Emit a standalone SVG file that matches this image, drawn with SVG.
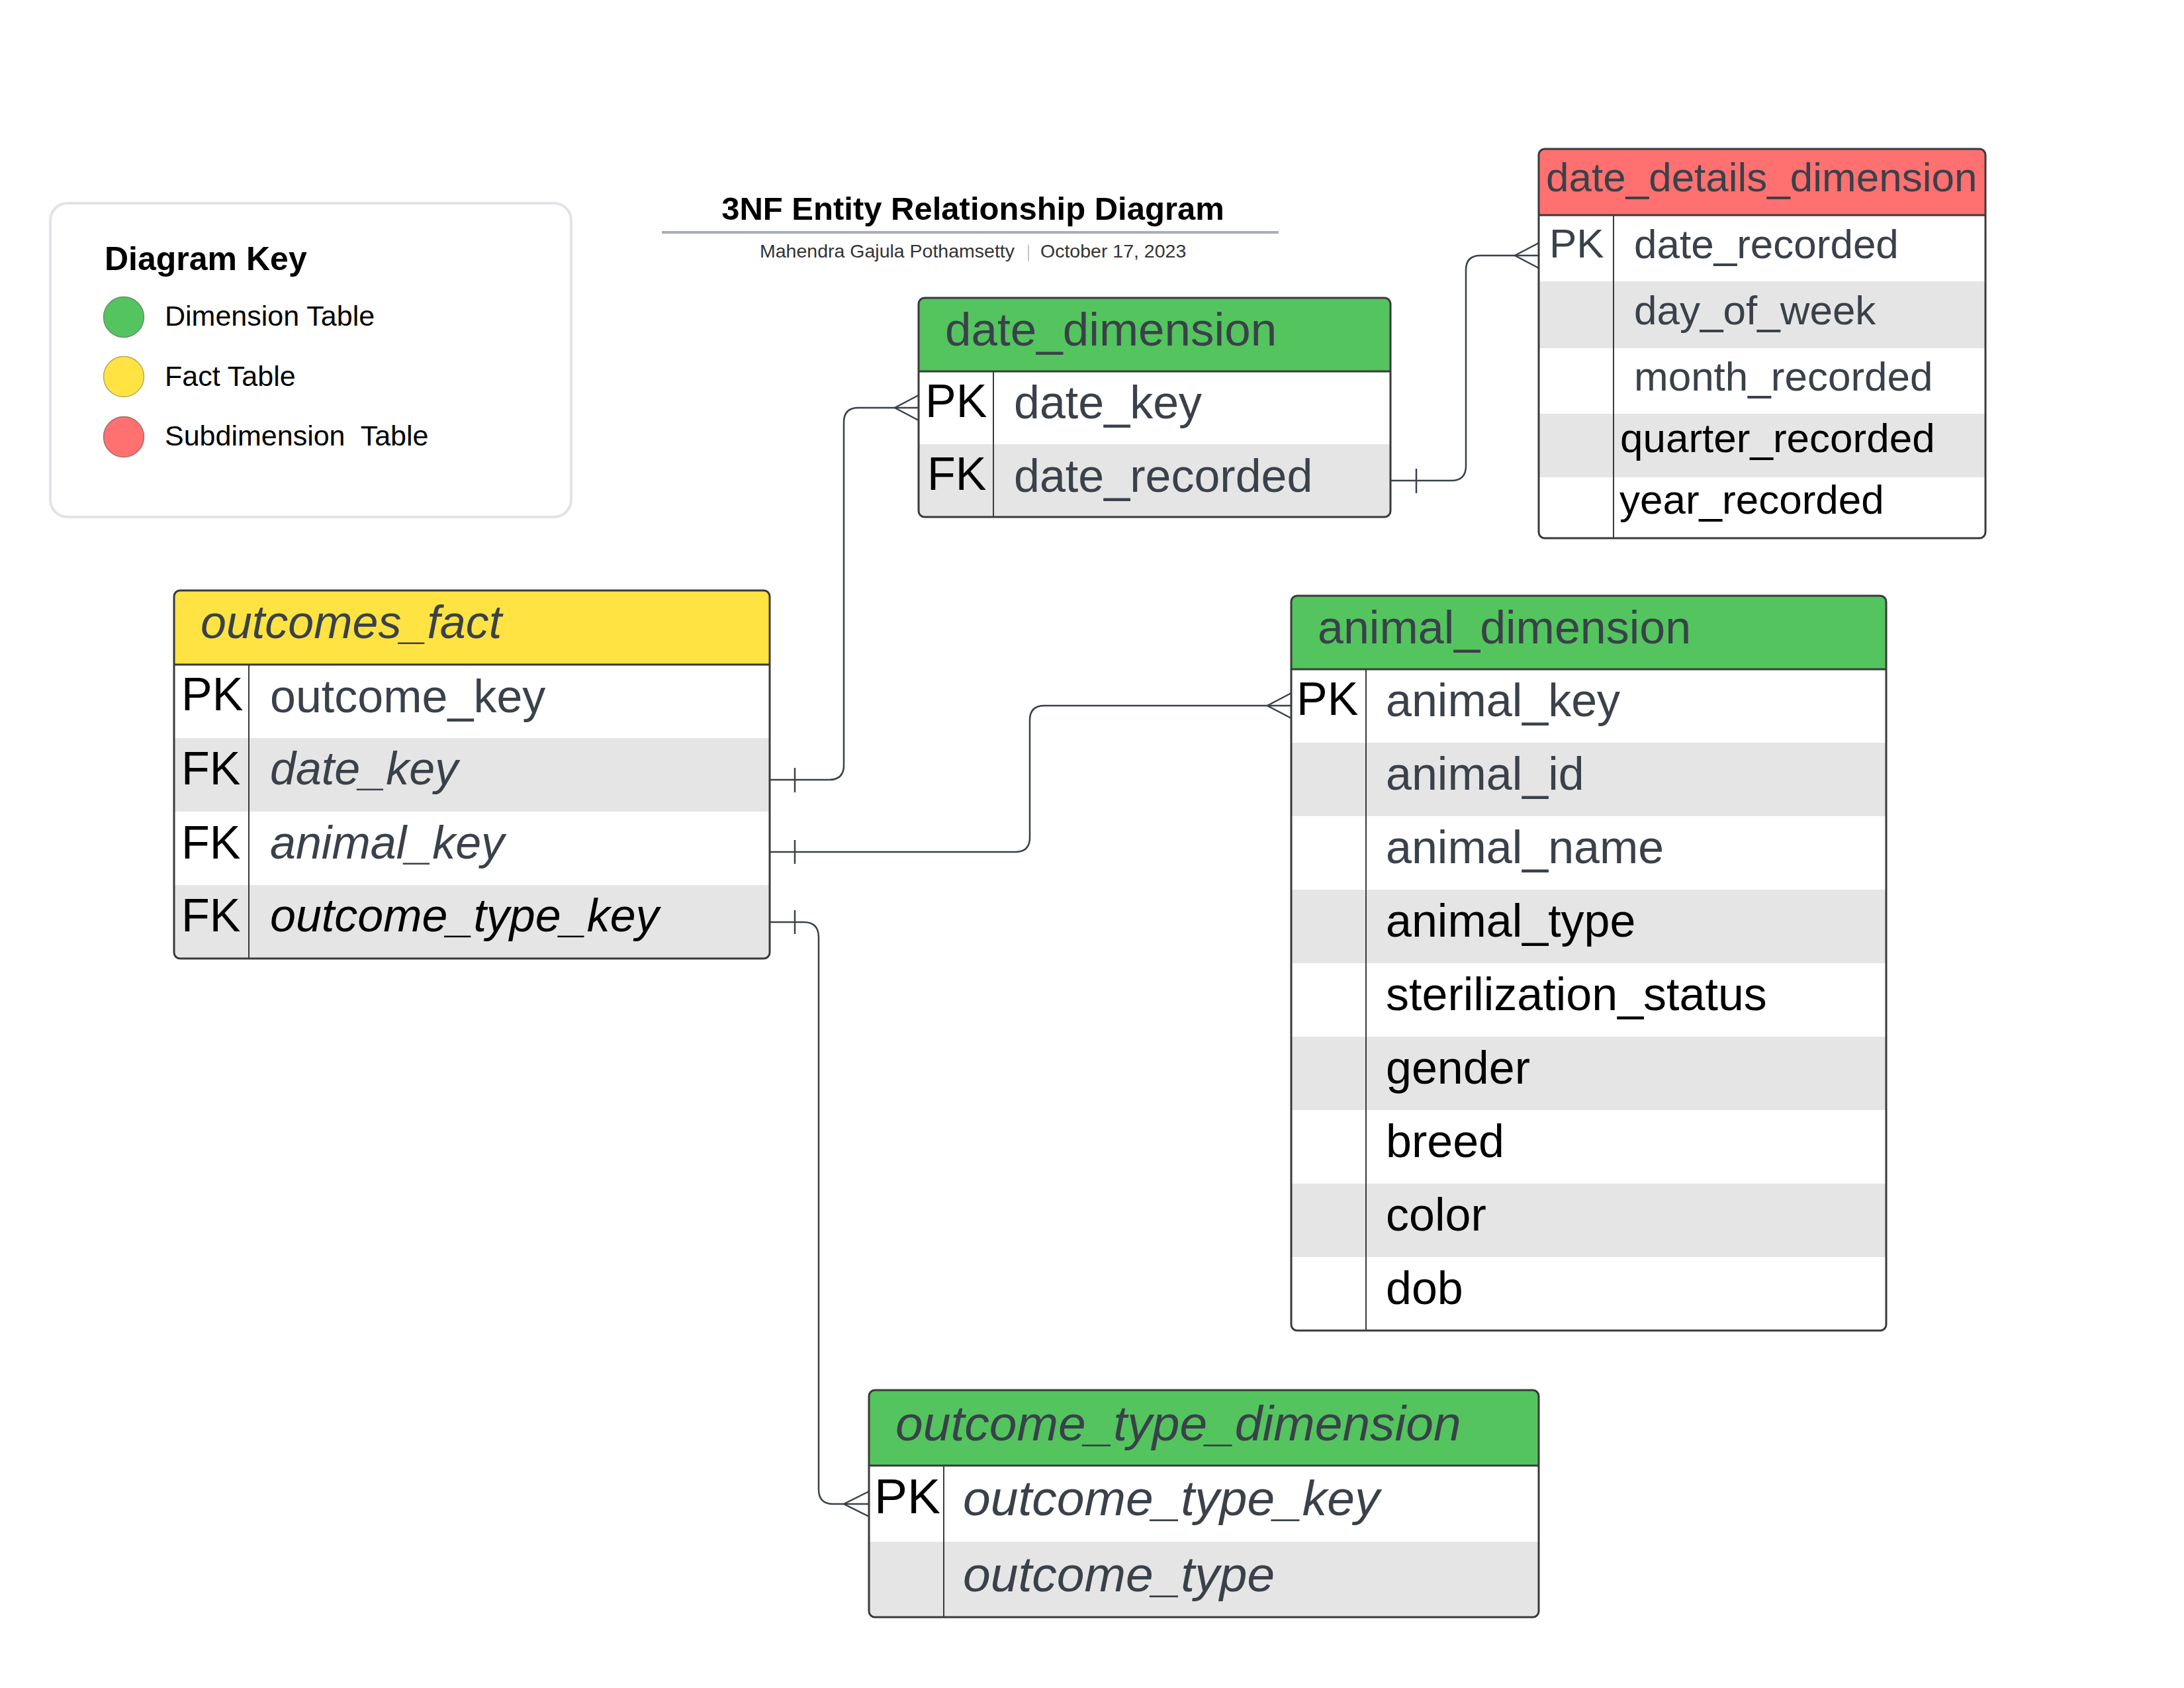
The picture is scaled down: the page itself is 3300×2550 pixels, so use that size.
<svg xmlns="http://www.w3.org/2000/svg" width="3300" height="2550" viewBox="0 0 3300 2550">
  <style>
    text { font-family: "Liberation Sans", Arial, sans-serif; }
    .slate { fill: #3a414a; }
    .ink { fill: #000000; }
    .it { font-style: italic; }
    .hdr { font-size: 70px; fill: #3a414a; }
    .hdr-lg { font-size: 75px; fill: #3a414a; }
    .cell { font-size: 70px; }
    .cell-lg { font-size: 75px; }
    .cell-sm { font-size: 62px; }
    .frame { fill: none; stroke: #3a3a3a; stroke-width: 3; }
    .sep { stroke: #3a3a3a; stroke-width: 3; }
    .keycol { stroke: #3a3a3a; stroke-width: 2; }
    .zebra { fill: #e5e5e5; }
    .conn { fill: none; stroke: #3a414a; stroke-width: 2.5; }
    .key-label { font-size: 43px; fill: #000; }
  </style>
  <defs>
    <clipPath id="clip-fact"><rect x="0" y="0" width="900" height="556" rx="9"/></clipPath>
    <clipPath id="clip-date"><rect x="0" y="0" width="713" height="331" rx="9"/></clipPath>
    <clipPath id="clip-details"><rect x="0" y="0" width="675" height="588" rx="9"/></clipPath>
    <clipPath id="clip-animal"><rect x="0" y="0" width="899" height="1110" rx="9"/></clipPath>
    <clipPath id="clip-otype"><rect x="0" y="0" width="1012" height="343" rx="9"/></clipPath>
  </defs>

  <rect width="3300" height="2550" fill="#ffffff"/>

  <!-- Legend -->
  <g id="diagram-key">
    <rect x="76" y="307" width="787" height="474" rx="26" fill="#ffffff" stroke="#e0e3e8" stroke-width="4"/>
    <text x="158" y="408" font-size="50" font-weight="bold" fill="#000">Diagram Key</text>
    <circle cx="187" cy="479" r="30.5" fill="#54c45e" stroke="#6b8f6b" stroke-width="1.5"/>
    <text class="key-label" x="249" y="492">Dimension Table</text>
    <circle cx="187" cy="569" r="30.5" fill="#ffe342" stroke="#b8a85a" stroke-width="1.5"/>
    <text class="key-label" x="249" y="583">Fact Table</text>
    <circle cx="187" cy="660" r="30.5" fill="#ff7070" stroke="#a86a6a" stroke-width="1.5"/>
    <text class="key-label" x="249" y="673" xml:space="preserve">Subdimension  Table</text>
  </g>

  <!-- Title block -->
  <g id="title">
    <text x="1470" y="332" font-size="49" font-weight="bold" fill="#000" text-anchor="middle">3NF Entity Relationship Diagram</text>
    <line x1="1000" y1="351" x2="1932" y2="351" stroke="#a9afb8" stroke-width="4"/>
    <text x="1533" y="389" font-size="28.5" fill="#333" text-anchor="end">Mahendra Gajula Pothamsetty</text>
    <line x1="1554" y1="370" x2="1554" y2="395" stroke="#c4c8ce" stroke-width="2"/>
    <text x="1572" y="389" font-size="28.5" fill="#333">October 17, 2023</text>
  </g>

  <!-- Relationship lines -->
  <g id="connectors">
    <!-- outcomes_fact.date_key -> date_dimension.date_key -->
    <path class="conn" d="M1163,1178 H1253 Q1275,1178 1275,1156 V638 Q1275,616 1297,616 H1388"/>
    <path class="conn" d="M1201,1160 V1197"/>
    <path class="conn" d="M1388,597 L1352,616 L1388,635"/>
    <!-- outcomes_fact.animal_key -> animal_dimension.animal_key -->
    <path class="conn" d="M1163,1287 H1534 Q1556,1287 1556,1265 V1088 Q1556,1066 1578,1066 H1951"/>
    <path class="conn" d="M1201,1269 V1305"/>
    <path class="conn" d="M1951,1047 L1915,1066 L1951,1085"/>
    <!-- outcomes_fact.outcome_type_key -> outcome_type_dimension.outcome_type_key -->
    <path class="conn" d="M1163,1393 H1214 Q1237,1393 1237,1416 V2250 Q1237,2272 1259,2272 H1313"/>
    <path class="conn" d="M1201,1375 V1411"/>
    <path class="conn" d="M1313,2253 L1275,2272 L1313,2291"/>
    <!-- date_dimension.date_recorded -> date_details_dimension.date_recorded -->
    <path class="conn" d="M2101,726 H2193 Q2215,726 2215,704 V408 Q2215,386 2237,386 H2325"/>
    <path class="conn" d="M2140,708 V745"/>
    <path class="conn" d="M2325,367 L2289,386 L2325,405"/>
  </g>

  <!-- Fact table -->
  <g id="outcomes_fact" transform="translate(263,892)">
    <g clip-path="url(#clip-fact)">
      <rect x="0" y="0" width="900" height="556" fill="#ffffff"/>
      <rect x="0" y="0" width="900" height="112" fill="#ffe342"/>
      <rect class="zebra" x="0" y="223" width="900" height="111"/>
      <rect class="zebra" x="0" y="445" width="900" height="111"/>
    </g>
    <line class="sep" x1="0" y1="112" x2="900" y2="112"/>
    <line class="keycol" x1="113" y1="112" x2="113" y2="556"/>
    <rect class="frame" x="0" y="0" width="900" height="556" rx="9"/>
    <text class="hdr it" x="40" y="72">outcomes_fact</text>
    <text class="cell ink" x="11" y="181">PK</text>
    <text class="cell slate" x="145" y="184">outcome_key</text>
    <text class="cell ink" x="11" y="293">FK</text>
    <text class="cell slate it" x="145" y="293">date_key</text>
    <text class="cell ink" x="11" y="405">FK</text>
    <text class="cell slate it" x="145" y="405">animal_key</text>
    <text class="cell ink" x="11" y="515">FK</text>
    <text class="cell ink it" x="145" y="515">outcome_type_key</text>
  </g>

  <!-- Date dimension -->
  <g id="date_dimension" transform="translate(1388,450)">
    <g clip-path="url(#clip-date)">
      <rect x="0" y="0" width="713" height="331" fill="#ffffff"/>
      <rect x="0" y="0" width="713" height="111" fill="#54c45e"/>
      <rect class="zebra" x="0" y="221" width="713" height="110"/>
    </g>
    <line class="sep" x1="0" y1="111" x2="713" y2="111"/>
    <line class="keycol" x1="113" y1="111" x2="113" y2="331"/>
    <rect class="frame" x="0" y="0" width="713" height="331" rx="9"/>
    <text class="hdr" x="40" y="72" style="font-size:71px">date_dimension</text>
    <text class="cell ink" x="10" y="180">PK</text>
    <text class="cell slate" x="144" y="182">date_key</text>
    <text class="cell ink" x="13" y="290">FK</text>
    <text class="cell slate" x="144" y="293">date_recorded</text>
  </g>

  <!-- Date details sub-dimension -->
  <g id="date_details_dimension" transform="translate(2325,225)">
    <g clip-path="url(#clip-details)">
      <rect x="0" y="0" width="675" height="588" fill="#ffffff"/>
      <rect x="0" y="0" width="675" height="100" fill="#ff7070"/>
      <rect class="zebra" x="0" y="200" width="675" height="101"/>
      <rect class="zebra" x="0" y="400" width="675" height="96"/>
    </g>
    <line class="sep" x1="0" y1="100" x2="675" y2="100"/>
    <line class="keycol" x1="113" y1="100" x2="113" y2="588"/>
    <rect class="frame" x="0" y="0" width="675" height="588" rx="9"/>
    <text class="cell-sm slate" x="11" y="64">date_details_dimension</text>
    <text class="cell-sm slate" x="16" y="164">PK</text>
    <text class="cell-sm slate" x="144" y="165">date_recorded</text>
    <text class="cell-sm slate" x="144" y="265">day_of_week</text>
    <text class="cell-sm slate" x="144" y="365">month_recorded</text>
    <text class="cell-sm ink" x="123" y="458">quarter_recorded</text>
    <text class="cell-sm ink" x="122" y="551">year_recorded</text>
  </g>

  <!-- Animal dimension -->
  <g id="animal_dimension" transform="translate(1951,900)">
    <g clip-path="url(#clip-animal)">
      <rect x="0" y="0" width="899" height="1110" fill="#ffffff"/>
      <rect x="0" y="0" width="899" height="111" fill="#54c45e"/>
      <rect class="zebra" x="0" y="222" width="899" height="111"/>
      <rect class="zebra" x="0" y="444" width="899" height="111"/>
      <rect class="zebra" x="0" y="666" width="899" height="111"/>
      <rect class="zebra" x="0" y="888" width="899" height="111"/>
    </g>
    <line class="sep" x1="0" y1="111" x2="899" y2="111"/>
    <line class="keycol" x1="113" y1="111" x2="113" y2="1110"/>
    <rect class="frame" x="0" y="0" width="899" height="1110" rx="9"/>
    <text class="hdr" x="40" y="72">animal_dimension</text>
    <text class="cell ink" x="8" y="180">PK</text>
    <text class="cell slate" x="143" y="182">animal_key</text>
    <text class="cell slate" x="143" y="293">animal_id</text>
    <text class="cell slate" x="143" y="404">animal_name</text>
    <text class="cell ink" x="143" y="515">animal_type</text>
    <text class="cell ink" x="143" y="626">sterilization_status</text>
    <text class="cell ink" x="143" y="737">gender</text>
    <text class="cell ink" x="143" y="848">breed</text>
    <text class="cell ink" x="143" y="959">color</text>
    <text class="cell ink" x="143" y="1070">dob</text>
  </g>

  <!-- Outcome type dimension -->
  <g id="outcome_type_dimension" transform="translate(1313,2100)">
    <g clip-path="url(#clip-otype)">
      <rect x="0" y="0" width="1012" height="343" fill="#ffffff"/>
      <rect x="0" y="0" width="1012" height="114" fill="#54c45e"/>
      <rect class="zebra" x="0" y="229" width="1012" height="114"/>
    </g>
    <line class="sep" x1="0" y1="114" x2="1012" y2="114"/>
    <line class="keycol" x1="113" y1="114" x2="113" y2="343"/>
    <rect class="frame" x="0" y="0" width="1012" height="343" rx="9"/>
    <text class="hdr-lg it" x="40" y="76">outcome_type_dimension</text>
    <text class="cell-lg ink" x="8" y="186">PK</text>
    <text class="cell-lg slate it" x="142" y="189">outcome_type_key</text>
    <text class="cell-lg slate it" x="142" y="304">outcome_type</text>
  </g>
</svg>
